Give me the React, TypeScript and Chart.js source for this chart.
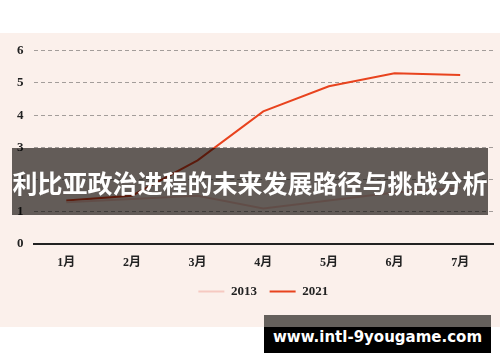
import React, { useEffect, useRef } from "react";
import { Chart, registerables } from "chart.js";

Chart.register(...registerables);

const categories = ["1月", "2月", "3月", "4月", "5月", "6月", "7月"];
const series2013 = [1.3, 1.4, 1.5, 1.1, 1.35, 1.6, 1.75];
const series2021 = [1.35, 1.5, 2.6, 4.12, 4.9, 5.3, 5.25];
const yTicks = [0, 1, 2, 3, 4, 5, 6];
const title = "利比亚政治进程的未来发展路径与挑战分析";
const watermark = "www.intl-9yougame.com";

const FONT = "'Liberation Serif', 'Noto Sans CJK SC', serif";

export default function App() {
  const ref = useRef<HTMLCanvasElement | null>(null);

  useEffect(() => {
    document.body.style.margin = "0";
    const canvas = ref.current;
    if (!canvas) return;
    const defaultGen = Chart.defaults.plugins.legend.labels.generateLabels;
    const chart = new Chart(canvas, {
      type: "line",
      data: {
        labels: categories,
        datasets: [
          {
            label: "2013",
            data: series2013,
            borderColor: "#f6c9c1",
            backgroundColor: "#f6c9c1",
            borderWidth: 2,
            pointRadius: 0,
            tension: 0,
          },
          {
            label: "2021",
            data: series2021,
            borderColor: "#e8431e",
            backgroundColor: "#e8431e",
            borderWidth: 2,
            pointRadius: 0,
            tension: 0,
          },
        ],
      },
      options: {
        animation: false,
        responsive: false,
        maintainAspectRatio: false,
        layout: { padding: { top: 11, left: 7, right: 7, bottom: 19 } },
        plugins: {
          tooltip: { enabled: false },
          legend: {
            position: "bottom",
            fullSize: false,
            labels: {
              usePointStyle: true,
              pointStyle: "line",
              pointStyleWidth: 26,
              boxHeight: 12,
              color: "#222",
              padding: 3,
              font: { family: FONT, size: 13, weight: "bold" },
              generateLabels: (c: any) =>
                defaultGen(c).map((item: any, i: number) => ({
                  ...item,
                  text: i === 0 ? item.text + "   " : item.text,
                })),
            },
          },
        },
        scales: {
          x: {
            offset: true,
            grid: { display: false, drawTicks: false },
            border: { display: true, color: "#222", width: 2 },
            ticks: {
              color: "#222",
              padding: 11.8,
              font: { family: FONT, size: 12, weight: "bold" },
            },
          },
          y: {
            min: 0,
            max: 6,
            afterBuildTicks: (axis: any) => {
              axis.ticks = yTicks.map((v) => ({ value: v }));
            },
            grid: {
              drawTicks: false,
              color: "#a39d9a",
              lineWidth: 1,
            },
            border: { display: true, color: "rgba(0,0,0,0)", dash: [4, 3] },
            ticks: {
              color: "#222",
              padding: 10,
              font: { family: FONT, size: 13, weight: "bold" },
            },
          },
        },
      },
    });
    return () => chart.destroy();
  }, []);

  return (
    <div style={{ position: "absolute", left: 0, top: 0, width: 500, height: 362, background: "#fff", overflow: "hidden" }}>
      <div style={{ position: "absolute", left: 0, top: 33, width: 500, height: 294, background: "#fbf0eb" }}>
        <canvas ref={ref} width={500} height={294} style={{ display: "block", width: 500, height: 294 }} />
      </div>
      <div
        style={{
          position: "absolute",
          left: 12,
          top: 148,
          width: 476,
          height: 67,
          background: "rgb(100,98,95)",
          mixBlendMode: "multiply",
        }}
      />
      <div
        style={{
          position: "absolute",
          left: 0,
          top: 148,
          width: 500,
          height: 67,
          display: "flex",
          alignItems: "center",
          justifyContent: "center",
          color: "#fff",
          fontFamily: "'Noto Sans CJK SC', sans-serif",
          fontWeight: 700,
          fontSize: 25,
          whiteSpace: "nowrap",
        }}
      >
        {title}
      </div>
      <div style={{ position: "absolute", left: 264, top: 315, width: 227, height: 12, background: "#65605c" }} />
      <div
        style={{
          position: "absolute",
          left: 264,
          top: 327,
          width: 227,
          height: 26,
          background: "#000",
        }}
      />
      <div
        style={{
          position: "absolute",
          left: 264,
          top: 315,
          width: 227,
          height: 38,
          display: "flex",
          alignItems: "center",
          justifyContent: "center",
          color: "#fff",
          fontFamily: "'DejaVu Sans', sans-serif",
          fontWeight: 700,
          fontSize: 15,
          paddingTop: 6,
          boxSizing: "border-box",
          whiteSpace: "nowrap",
        }}
      >
        {watermark}
      </div>
    </div>
  );
}
